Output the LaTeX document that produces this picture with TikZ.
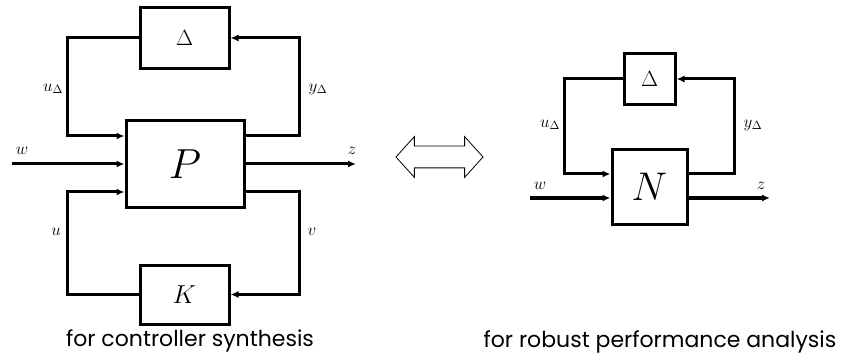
\RequirePackage{fix-cm}
\documentclass[tikz,border=0pt]{standalone}
\usepackage{amsmath,amssymb}
\usepackage{fontspec}
\newfontfamily\capfont{Poppins}
\usepackage{tikz}
\usetikzlibrary{arrows.meta, shapes, positioning, calc}
\tikzset{
  blk/.style={draw, line width=3pt, inner sep=0pt},
  wire/.style={line width=3pt, -{Latex[length=8pt,width=7pt]}},
  lbl/.style={inner sep=0pt, font=\fontsize{17}{19}\selectfont},
  captxt/.style={inner sep=0pt, font=\capfont\fontsize{22}{26}\selectfont}
}

\begin{document}
\begin{tikzpicture}[x=1pt, y=-1pt]
        \useasboundingbox (0,0) rectangle (856,358);
        % left: P with uncertainty and controller
        \node[blk, minimum width=89pt, minimum height=61pt, font=\fontsize{22}{24}\selectfont] (D1) at (184.5,38) {$\Delta$};
        \node[blk, minimum width=118pt, minimum height=87pt, font=\fontsize{42}{44}\selectfont] (P) at (185,164) {$P$};
        \node[blk, minimum width=89pt, minimum height=59pt, font=\fontsize{26}{28}\selectfont] (K) at (184.5,294.5) {$K$};
        \coordinate (w1) at (12,164);
        \coordinate (z1) at (356,164);
        \draw[wire] ([yshift=28pt]P.east) -- ++(54,0) |- (D1.east);
        \draw[wire] (D1.west) -- ++(-71,0) |- ([yshift=28pt]P.west);
        \draw[wire] ([yshift=-28pt]P.east) -- ++(54,0) |- (K.east);
        \draw[wire] (K.west) -- ++(-71,0) |- ([yshift=-28pt]P.west);
        \draw[wire] (w1) -- (P.west);
        \draw[wire] (P.east) -- (z1);
        \node[lbl] (lw1) at (22,151) {$w$};
        \node[lbl] (lz1) at (352,151) {$z$};
        \node[lbl] (lu1) at (53,89) {$u_\Delta$};
        \node[lbl] (ly1) at (318,89) {$y_\Delta$};
        \node[lbl] (lu) at (56,232) {$u$};
        \node[lbl] (lv) at (312,232) {$v$};
        \node[captxt] (c1) at (190,341) {for controller synthesis};
        % equivalence
        \node[double arrow, draw, line width=0.8pt, inner xsep=0pt, inner ysep=10.5pt, minimum height=87pt, minimum width=40pt,
          double arrow head extend=9.5pt, double arrow tip angle=96] (eq) at (439.5,157) {};
        % right: N with uncertainty
        \node[blk, minimum width=51pt, minimum height=51pt, font=\fontsize{22}{24}\selectfont] (D2) at (649.5,79) {$\Delta$};
        \node[blk, minimum width=75pt, minimum height=74pt, font=\fontsize{40}{42}\selectfont] (N) at (649.5,187) {$N$};
        \coordinate (w2) at (530,198);
        \coordinate (z2) at (770,198);
        \draw[wire] ([yshift=13pt]N.east) -- ++(46,0) |- (D2.east);
        \draw[wire] (D2.west) -- ++(-58,0) |- ([yshift=13pt]N.west);
        \draw[wire] (w2) -- ([yshift=-11pt]N.west);
        \draw[wire] ([yshift=-11pt]N.east) -- (z2);
        \node[lbl] (lw2) at (540,186) {$w$};
        \node[lbl] (lz2) at (761,186) {$z$};
        \node[lbl] (lu2) at (550,125) {$u_\Delta$};
        \node[lbl] (ly2) at (753,125) {$y_\Delta$};
        \node[captxt] (c2) at (660,342) {for robust performance analysis};
      \end{tikzpicture}
\end{document}
